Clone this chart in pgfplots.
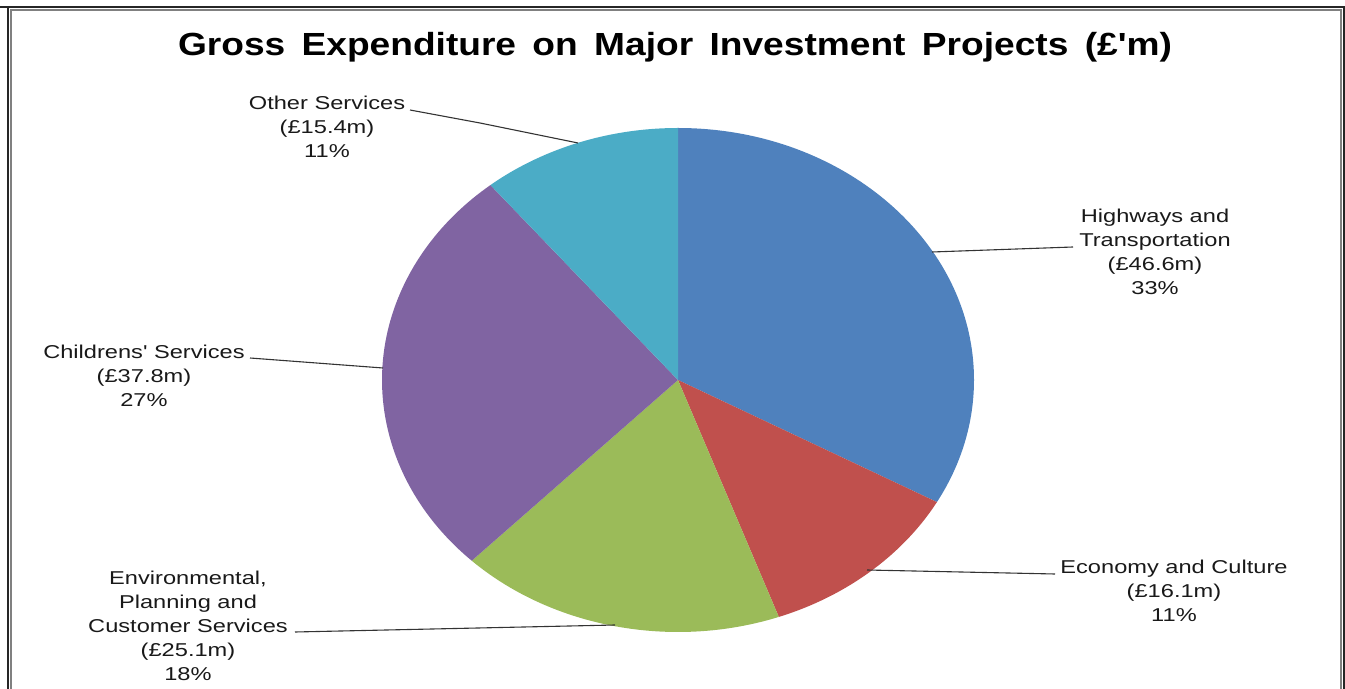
\documentclass[border=0pt]{standalone}
\usepackage{pgfplots}
\usepackage{pgfplotstable}
\pgfplotsset{compat=1.18}
\usepackage{fontspec}
\setmainfont{Liberation Sans}
\newfontfamily\lblfont{Liberation Sans}[FakeStretch=1.27]
\newfontfamily\ttlfont{Liberation Sans}[FakeStretch=1.16]

\definecolor{slice0}{HTML}{4F81BD}
\definecolor{slice1}{HTML}{C0504D}
\definecolor{slice2}{HTML}{9BBB59}
\definecolor{slice3}{HTML}{8064A2}
\definecolor{slice4}{HTML}{4BACC6}

% gross expenditure, £m, clockwise from 12 o'clock
\pgfplotstableread{
name value
Highways 46.6
Economy 16.1
Environmental 25.1
Childrens 37.8
Other 15.4
}\piedata

\begin{document}
\begin{tikzpicture}
\pgfplotstablegetrowsof{\piedata}
\pgfmathtruncatemacro\nrows{\pgfplotsretval-1}
\gdef\total{0}
\foreach \i in {0,...,\nrows}{%
  \pgfplotstablegetelem{\i}{value}\of\piedata
  \pgfmathparse{\total+\pgfplotsretval}\xdef\total{\pgfmathresult}}
\gdef\cum{0}
\foreach \i in {0,...,\nrows}{%
  \pgfplotstablegetelem{\i}{value}\of\piedata
  \pgfmathparse{90-360*(\cum/\total)}\expandafter\xdef\csname angA\i\endcsname{\pgfmathresult}%
  \pgfmathparse{\cum+\pgfplotsretval}\xdef\cum{\pgfmathresult}%
  \pgfmathparse{90-360*(\cum/\total)}\expandafter\xdef\csname angB\i\endcsname{\pgfmathresult}}
\begin{axis}[
    x=0.5pt, y=0.5pt, y dir=reverse,
    scale only axis,
    xmin=0, xmax=1345, ymin=0, ymax=689,
    axis lines=none, clip=false,
  ]
  % slices
  \pgfplotsinvokeforeach{0,...,4}{%
    \edef\slice{\noexpand\fill[slice#1] (axis cs:678,380) -- ++(\csname angA#1\endcsname:148pt and 126pt)
      arc[start angle=\csname angA#1\endcsname, end angle=\csname angB#1\endcsname, x radius=148pt, y radius=126pt] -- cycle;}%
    \slice}

  % frame
  \draw[black!85, line width=0.75pt] (axis cs:0,7) -- (axis cs:1345,7);
  \draw[black!85, line width=0.75pt] (axis cs:8,7) -- (axis cs:8,689);
  \draw[black!85, line width=0.75pt] (axis cs:1344,7) -- (axis cs:1344,689);
  \draw[gray, line width=1.2pt] (axis cs:11,689) -- (axis cs:11,10) -- (axis cs:1341,10) -- (axis cs:1341,689);

  % title
  \node[font=\ttlfont\bfseries\fontsize{16}{19}\selectfont, anchor=base]
    at (axis cs:675,56) {\hbox to 497pt{Gross\hfil Expenditure\hfil on\hfil Major\hfil Investment\hfil Projects\hfil (£'m)}};

  % leader lines
  \begin{scope}[black!80, line width=0.55pt]
    \draw (axis cs:410,110) -- (axis cs:480,123) -- (axis cs:578,143);
    \draw (axis cs:932,252) -- (axis cs:1073,247);
    \draw (axis cs:250,358) -- (axis cs:383,368);
    \draw (axis cs:867,570) -- (axis cs:1055,574);
    \draw (axis cs:295,632) -- (axis cs:615,625);
  \end{scope}

  % labels
  \begin{scope}[every node/.style={font=\lblfont\fontsize{9.3}{12}\selectfont, align=center, text=black!90, inner sep=0pt}]
    \node at (axis cs:327,127) {Other Services\\(£15.4m)\\11\%};
    \node at (axis cs:1155,252) {Highways and\\Transportation\\(£46.6m)\\33\%};
    \node at (axis cs:144,376) {Childrens' Services\\(£37.8m)\\27\%};
    \node at (axis cs:1174,591) {Economy and Culture\\(£16.1m)\\11\%};
    \node at (axis cs:188,626) {Environmental,\\Planning and\\Customer Services\\(£25.1m)\\18\%};
  \end{scope}
\end{axis}
\pgfresetboundingbox
\useasboundingbox (current axis.south west) rectangle (current axis.north east);
\end{tikzpicture}
\end{document}
